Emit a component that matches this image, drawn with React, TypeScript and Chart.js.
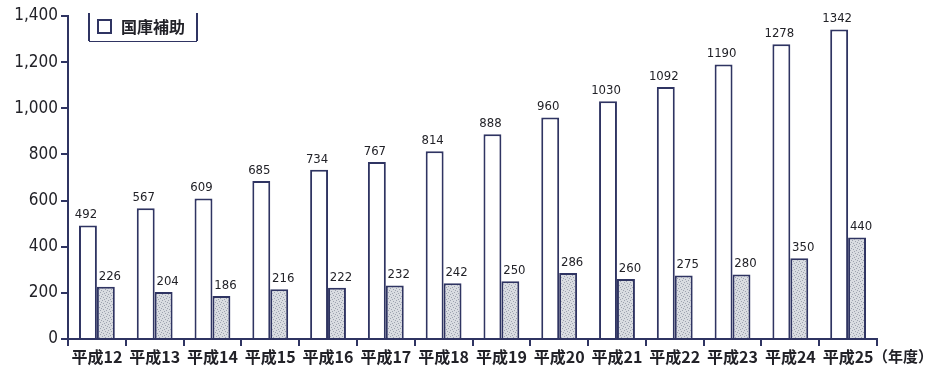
import React, { useEffect, useRef } from "react";
import { Chart, registerables } from "chart.js";

Chart.register(...registerables);

const categories = [
  "平成12", "平成13", "平成14", "平成15", "平成16", "平成17", "平成18",
  "平成19", "平成20", "平成21", "平成22", "平成23", "平成24", "平成25",
];
const subsidyValues = [492, 567, 609, 685, 734, 767, 814, 888, 960, 1030, 1092, 1190, 1278, 1342];
const otherValues = [226, 204, 186, 216, 222, 232, 242, 250, 286, 260, 275, 280, 350, 440];
const legendLabel = "国庫補助";
const unitLabel = "（年度）";
const yMax = 1400;
const yStep = 200;

const INK = "#2f3462";
const TEXT = "#222228";
const NUM_FONT = '"DejaVu Sans Condensed", "Liberation Sans Narrow", "DejaVu Sans", sans-serif';
const JP_FONT = '"Noto Sans CJK JP", "Noto Sans", sans-serif';

function makeStipple(): CanvasPattern | string {
  const c = document.createElement("canvas");
  c.width = 6;
  c.height = 6;
  const g = c.getContext("2d");
  if (!g) return "#cfd2d8";
  g.fillStyle = "#d9dce1";
  g.fillRect(0, 0, 6, 6);
  g.fillStyle = "#9ea3b0";
  const dots = [[0, 0], [3, 1], [1, 3], [4, 4], [5, 2], [2, 5]];
  dots.forEach(([x, y]) => g.fillRect(x, y, 1, 1));
  const p = g.createPattern(c, "repeat");
  return p || "#cfd2d8";
}

// value labels above each bar, legend box and the unit label
const annotate = {
  id: "annotate",
  afterDatasetsDraw(chart: any) {
    const ctx = chart.ctx;
    ctx.save();
    ctx.fillStyle = TEXT;
    ctx.font = `13px ${NUM_FONT}`;
    ctx.textAlign = "center";
    ctx.textBaseline = "bottom";
    chart.data.datasets.forEach((ds: any, di: number) => {
      const meta = chart.getDatasetMeta(di);
      meta.data.forEach((bar: any, i: number) => {
        const shift = di === 0 ? -2 : 4;
        ctx.fillText(String(ds.data[i]), bar.x + shift, bar.y - 4);
      });
    });

    // legend
    ctx.strokeStyle = INK;
    ctx.lineWidth = 2;
    ctx.beginPath();
    ctx.moveTo(89, 13);
    ctx.lineTo(89, 41);
    ctx.moveTo(197, 13);
    ctx.lineTo(197, 41);
    ctx.stroke();
    ctx.lineWidth = 1;
    ctx.beginPath();
    ctx.moveTo(89, 41.5);
    ctx.lineTo(197, 41.5);
    ctx.stroke();
    ctx.lineWidth = 2;
    ctx.strokeRect(98, 20, 13, 13);
    ctx.fillStyle = TEXT;
    ctx.font = `bold 16px ${JP_FONT}`;
    ctx.textAlign = "left";
    ctx.textBaseline = "middle";
    ctx.fillText(legendLabel, 121, 27);

    // unit
    ctx.font = `bold 15px ${JP_FONT}`;
    ctx.textAlign = "right";
    ctx.fillText(unitLabel, 933, 356);
    ctx.restore();
  },
};

export default function App() {
  const ref = useRef<HTMLCanvasElement>(null);

  useEffect(() => {
    if (!ref.current) return;
    const stipple = makeStipple();
    const chart = new Chart(ref.current, {
      type: "bar",
      data: {
        labels: categories,
        datasets: [
          {
            label: legendLabel,
            data: subsidyValues,
            backgroundColor: "#ffffff",
            borderColor: INK,
            borderWidth: 2,
            borderSkipped: "bottom",
          },
          {
            label: "",
            data: otherValues,
            backgroundColor: stipple as any,
            borderColor: INK,
            borderWidth: 2,
            borderSkipped: "bottom",
          },
        ],
      },
      options: {
        animation: false,
        responsive: false,
        maintainAspectRatio: false,
        layout: { padding: { left: 0, right: 57, top: 16, bottom: 0 } },
        plugins: {
          legend: { display: false },
          tooltip: { enabled: false },
        },
        datasets: {
          bar: { categoryPercentage: 0.62, barPercentage: 1 },
        },
        scales: {
          x: {
            afterFit: (s: any) => {
              s.height = 31;
            },
            grid: {
              display: true,
              drawOnChartArea: false,
              drawTicks: true,
              tickLength: 7,
              color: INK,
              lineWidth: 2,
              offset: true,
            },
            border: { display: true, color: INK, width: 2 },
            ticks: {
              color: TEXT,
              padding: 1,
              autoSkip: false,
              maxRotation: 0,
              font: { family: JP_FONT, size: 16, weight: "bold" },
            },
          },
          y: {
            min: 0,
            max: yMax,
            afterFit: (s: any) => {
              s.width = 68;
            },
            grid: {
              display: true,
              drawOnChartArea: false,
              drawTicks: true,
              tickLength: 7,
              color: INK,
              lineWidth: 2,
            },
            border: { display: true, color: INK, width: 2 },
            ticks: {
              stepSize: yStep,
              color: TEXT,
              padding: 3,
              font: { family: NUM_FONT, size: 17 },
              callback: (v: any) => Number(v).toLocaleString("en-US"),
            },
          },
        },
      },
      plugins: [annotate],
    });
    return () => chart.destroy();
  }, []);

  return (
    <div style={{ position: "fixed", left: 0, top: 0, width: 934, height: 370, background: "#fff" }}>
      <canvas ref={ref} width={934} height={370} style={{ width: 934, height: 370 }} />
    </div>
  );
}
